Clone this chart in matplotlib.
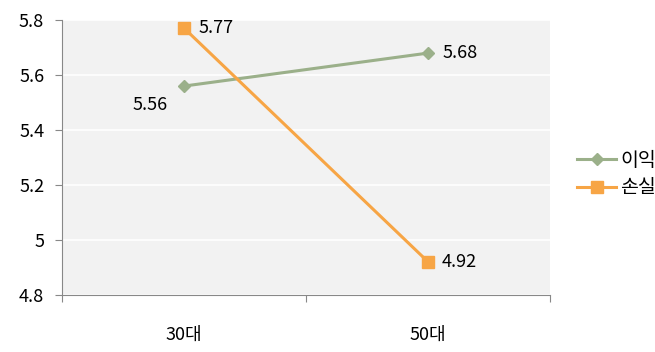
import matplotlib.pyplot as plt

plt.rcParams['font.family'] = ['Noto Sans CJK KR', 'DejaVu Sans']

categories = ['30대', '50대']
gain = [5.56, 5.68]
loss = [5.77, 4.92]
series_names = ['이익', '손실']

fig = plt.figure(figsize=(6.55, 3.52), dpi=100)
ax = fig.add_axes([0.095, 0.162, 0.745, 0.781])
ax.set_facecolor('#f2f2f2')

x = [0.5, 1.5]
green = '#9bb08a'
orange = '#f7a545'
ax.plot(x, gain, color=green, lw=2.2, marker='D', ms=6, label=series_names[0])
ax.plot(x, loss, color=orange, lw=2.2, marker='s', ms=8, label=series_names[1])

fs = 13
for xi, v in zip(x, gain):
    if xi == x[0]:
        ax.annotate(f'{v:.2f}', (xi, v), xytext=(-12, -14), textcoords='offset points',
                    ha='right', va='center', fontsize=fs)
    else:
        ax.annotate(f'{v:.2f}', (xi, v), xytext=(10, 0), textcoords='offset points',
                    ha='left', va='center', fontsize=fs)
for xi, v in zip(x, loss):
    ax.annotate(f'{v:.2f}', (xi, v), xytext=(10, 0), textcoords='offset points',
                ha='left', va='center', fontsize=fs)

ax.set_xlim(0, 2)
ax.set_ylim(4.8, 5.8)
ax.set_yticks([4.8, 5.0, 5.2, 5.4, 5.6, 5.8])
ax.set_yticklabels(['4.8', '5', '5.2', '5.4', '5.6', '5.8'], fontsize=fs)
ax.set_xticks([0, 1, 2])
ax.set_xticklabels([])
ax.set_xticks(x, minor=True)
ax.set_xticklabels(categories, minor=True, fontsize=fs)
ax.tick_params(axis='x', which='minor', length=0, pad=22)
ax.tick_params(axis='x', which='major', length=5, color='#888888')
ax.tick_params(axis='y', length=5, color='#888888', pad=8)

ax.grid(axis='y', color='white', lw=1.2)
ax.set_axisbelow(True)
for s in ['top', 'right']:
    ax.spines[s].set_visible(False)
for s in ['left', 'bottom']:
    ax.spines[s].set_color('#888888')

ax.legend(loc='center left', bbox_to_anchor=(1.02, 0.44), frameon=False,
          fontsize=14, handlelength=2.0, handletextpad=0.2, labelspacing=0.35)

fig.savefig('out.png', dpi=100)
